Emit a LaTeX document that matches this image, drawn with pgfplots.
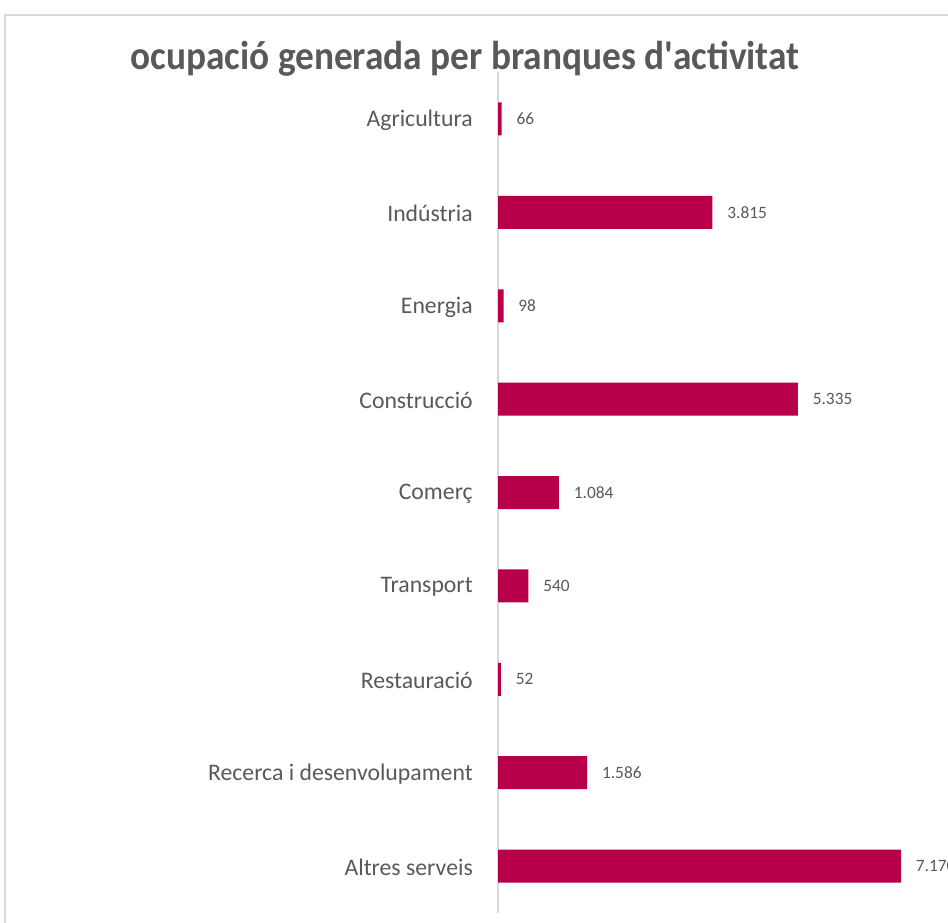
\documentclass[border=0pt]{standalone}
\usepackage{fontspec}
\setmainfont{Carlito}
\usepackage{pgfplots}
\pgfplotsset{compat=1.18}
\definecolor{barred}{RGB}{184,0,74}
\definecolor{txtgray}{RGB}{89,89,89}
\definecolor{linegray}{RGB}{217,217,217}
\begin{document}
\begin{tikzpicture}
\useasboundingbox (0,0) rectangle (711pt,691.5pt);
\clip (0,0) rectangle (711pt,691.5pt);
% outer frame (only left and top edges are visible)
\draw[linegray, line width=1pt] (3.75pt,-5pt) -- (3.75pt,680.25pt) -- (720pt,680.25pt);
\node[anchor=base, text=txtgray, inner sep=0pt, yscale=1.08, font=\fontsize{28}{32}\selectfont\bfseries]
  at (348.75pt,639pt) {ocupació generada per branques d\textquotesingle activitat};
\begin{axis}[
    at={(373.5pt,6.975pt)}, anchor=south west,
    scale only axis, width=302.25pt, height=630.3pt,
    xbar, bar width=24.75pt,
    xmin=0, xmax=7170, ymin=0.5, ymax=9.5,
    y dir=reverse, clip=false,
    hide x axis,
    axis y line*=left,
    y axis line style={draw=linegray, line width=1pt, -},
    ytick={1,...,9},
    yticklabels={Agricultura,Indústria,Energia,Construcció,Comerç,Transport,Restauració,Recerca i desenvolupament,Altres serveis},
    major tick length=0pt,
    yticklabel style={text=txtgray, font=\fontsize{17.8}{20}\selectfont, inner sep=0pt, xshift=-18.75pt, yshift=-1pt},
    nodes near coords,
    nodes near coords style={text=txtgray, font=\fontsize{13}{15}\selectfont, inner sep=0pt, anchor=west, xshift=11pt},
    /pgf/number format/.cd, 1000 sep={.}, fixed, precision=0, assume math mode=true,
]
\addplot[fill=barred, draw=none] coordinates {
  (66,1) (3815,2) (98,3) (5335,4) (1084,5) (540,6) (52,7) (1586,8) (7170,9)
};
\end{axis}
\end{tikzpicture}
\end{document}
